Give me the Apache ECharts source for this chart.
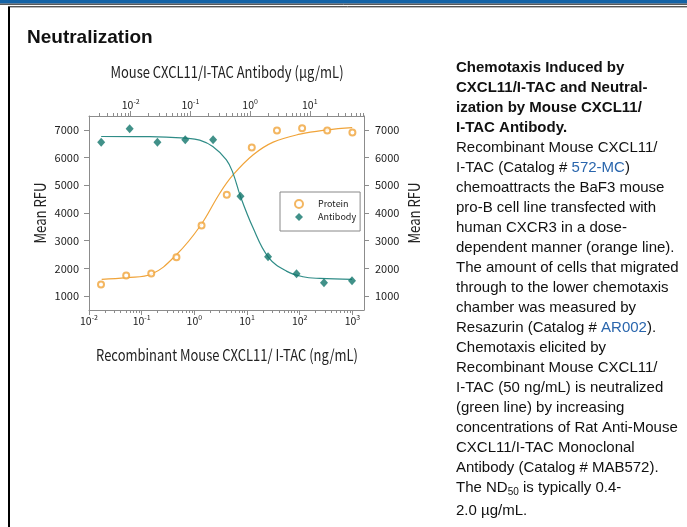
<!DOCTYPE html>
<html><head><meta charset="utf-8">
<script src="https://cdn.jsdelivr.net/npm/echarts@6/dist/echarts.min.js"></script>
<style>html,body{margin:0;padding:0;background:#fff}#c{width:687px;height:527px}</style>
</head><body><div id="c"></div>
<script>
// ---- data ----
// Protein (bottom axis, ng/mL)
const proteinConc = [0.0169, 0.0508, 0.152, 0.457, 1.37, 4.12, 12.3, 37.0, 111, 333, 1000];
const proteinRFU  = [1424, 1748, 1820, 2407, 3547, 4662, 6363, 6975, 7060, 6975, 6903];
// Antibody (top axis, ug/mL)
const antibodyConc = [0.0032, 0.0096, 0.028, 0.082, 0.24, 0.69, 2.0, 6.0, 17.3, 51];
const antibodyRFU  = [6557, 7036, 6557, 6640, 6640, 4601, 2421, 1809, 1486, 1558];
// fitted curves, points
const proteinFitConc = [0.0174, 0.0519, 0.155, 0.461, 1.28, 3.06, 5.47, 13.1, 31.4, 101, 324, 991];
const proteinFitRFU  = [1604, 1665, 1800, 2504, 3522, 4723, 5381, 6100, 6557, 6845, 7000, 7083];
const antibodyFitConc = [0.0032, 0.0208, 0.0857, 0.143, 0.237, 0.401, 0.517, 0.689, 1.12, 2.0, 4.06, 7.69, 14.7, 51];
const antibodyFitRFU  = [6760, 6758, 6700, 6630, 6400, 5920, 5440, 4600, 3464, 2421, 1903, 1700, 1640, 1604];
// axes
const bottomTickExponents = [-2, -1, 0, 1, 2, 3];
const topTickExponents = [-2, -1, 0, 1];
const rfuTicks = [1000, 2000, 3000, 4000, 5000, 6000, 7000];
const bottomRange = [0.01, 1660];
const topRange = [0.002, 81];
const rfuRange = [500, 7500];
const bottomTitle = 'Recombinant Mouse CXCL11/ I-TAC (ng/mL)';
const topTitle = 'Mouse CXCL11/I-TAC Antibody (µg/mL)';
const yTitle = 'Mean RFU';

const FONT = "'Noto Sans CJK SC','DejaVu Sans Condensed',sans-serif";
const TXT = "'Liberation Sans',Arial,sans-serif";
const ORANGE = '#F0A43A', GREEN_LINE = '#2F8C87', GREEN = '#11766C', AXIS = '#8c8c8c', INK = '#222';

const pow10 = e => Math.pow(10, e);
function minorTicks(r) {
  const out = [];
  for (let n = Math.floor(Math.log10(r[0])); n <= Math.ceil(Math.log10(r[1])); n++)
    for (let k = 2; k <= 9; k++) { const v = k * pow10(n); if (v > r[0] && v < r[1]) out.push(v); }
  return out;
}
const expLabel = v => '{b|10}{s|' + Math.round(Math.log10(v)) + '}';
const expRich = { b: { fontSize: 10.5, fontFamily: FONT, color: INK }, s: { fontSize: 7, fontFamily: FONT, color: INK, padding: [0, 0, 7, 0], lineHeight: 7 } };

function xMajor(pos, range, exps) {
  return {
    type: 'log', logBase: 10, position: pos, min: range[0], max: range[1], gridIndex: 0,
    axisLine: { show: true, lineStyle: { color: AXIS, width: 1 } },
    axisTick: { show: true, length: 5, customValues: exps.map(pow10), lineStyle: { color: AXIS } },
    axisLabel: { show: true, customValues: exps.map(pow10), formatter: expLabel, rich: expRich, margin: 6 },
    splitLine: { show: false }, minorTick: { show: false }
  };
}
function xMinor(pos, range) {
  return {
    type: 'log', logBase: 10, position: pos, min: range[0], max: range[1], gridIndex: 0,
    axisLine: { show: false },
    axisTick: { show: true, length: 3, customValues: minorTicks(range), lineStyle: { color: AXIS } },
    axisLabel: { show: false }, splitLine: { show: false }
  };
}
function yAxis(pos, margin) {
  return {
    type: 'value', position: pos, min: rfuRange[0], max: rfuRange[1],
    axisLine: { show: true, lineStyle: { color: AXIS } },
    axisTick: { show: true, length: 5, customValues: rfuTicks, lineStyle: { color: AXIS } },
    axisLabel: { customValues: rfuTicks, formatter: v => String(v), fontSize: 11, fontFamily: FONT, color: INK, margin: margin },
    splitLine: { show: false }
  };
}

const zip = (a, b) => a.map((v, i) => [v, b[i]]);

const bodyLines = [
  '{h|Chemotaxis Induced by}',
  '{h|CXCL11/I-TAC and Neutral-}',
  '{h|ization by Mouse CXCL11/}',
  '{h|I-TAC Antibody.}',
  'Recombinant Mouse CXCL11/',
  'I-TAC (Catalog # {a|572-MC})',
  'chemoattracts the BaF3 mouse',
  'pro-B cell line transfected with',
  'human CXCR3 in a dose-',
  'dependent manner (orange line).',
  'The amount of cells that migrated',
  'through to the lower chemotaxis',
  'chamber was measured by',
  'Resazurin (Catalog # {a|AR002}).',
  'Chemotaxis elicited by',
  'Recombinant Mouse CXCL11/',
  'I-TAC (50 ng/mL) is neutralized',
  '(green line) by increasing',
  'concentrations of Rat Anti-Mouse',
  'CXCL11/I-TAC Monoclonal',
  'Antibody (Catalog # MAB572).',
  'The ND{sub|50} is typically 0.4-'
];
const lastLine = '2.0 µg/mL.';

const titleStyle = t => ({ text: t, fontSize: 16, fontFamily: FONT, fill: INK, align: 'center', verticalAlign: 'middle' });

const chart = echarts.init(document.getElementById('c'), null, { renderer: 'canvas' });
chart.setOption({
  animation: false,
  backgroundColor: '#fff',
  grid: { left: 89, top: 116, width: 275, height: 194, containLabel: false, outerBoundsMode: 'none' },
  xAxis: [
    xMajor('bottom', bottomRange, bottomTickExponents),
    xMajor('top', topRange, topTickExponents),
    xMinor('bottom', bottomRange),
    xMinor('top', topRange)
  ],
  yAxis: [yAxis('left', 10), yAxis('right', 11)],
  legend: {
    orient: 'vertical', left: 280, top: 192, padding: [6, 4, 8, 14],
    itemWidth: 8, itemHeight: 8, itemGap: 1,
    borderColor: '#888', borderWidth: 1, backgroundColor: '#fff',
    textStyle: { fontSize: 9, fontFamily: FONT, color: INK, padding: [0, 0, 0, 10], lineHeight: 12 },
    data: [{ name: 'Protein', icon: 'emptyCircle' }, { name: 'Antibody', icon: 'diamond' }]
  },
  series: [
    { type: 'line', name: 'Protein fit', xAxisIndex: 0, yAxisIndex: 0, data: zip(proteinFitConc, proteinFitRFU),
      showSymbol: false, smooth: 0.4, lineStyle: { color: ORANGE, width: 1.2 }, z: 2, silent: true },
    { type: 'line', name: 'Antibody fit', xAxisIndex: 1, yAxisIndex: 0, data: zip(antibodyFitConc, antibodyFitRFU),
      showSymbol: false, smooth: 0.4, lineStyle: { color: GREEN_LINE, width: 1.2 }, z: 2, silent: true },
    { type: 'scatter', name: 'Protein', xAxisIndex: 0, yAxisIndex: 0, data: zip(proteinConc, proteinRFU),
      symbol: 'emptyCircle', symbolSize: 6, itemStyle: { color: ORANGE, borderColor: ORANGE, borderWidth: 1 }, z: 3 },
    { type: 'scatter', name: 'Antibody', xAxisIndex: 1, yAxisIndex: 0, data: zip(antibodyConc, antibodyRFU),
      symbol: 'diamond', symbolSize: [8, 9], itemStyle: { color: GREEN }, z: 3 }
  ],
  graphic: [
    { type: 'rect', shape: { x: 0, y: 0, width: 687, height: 3.5 }, style: { fill: '#1463a6' }, silent: true },
    { type: 'line', shape: { x1: 0, y1: 4.2, x2: 687, y2: 4.2 }, style: { stroke: '#111', lineWidth: 1 }, silent: true },
    { type: 'line', shape: { x1: 8, y1: 6.8, x2: 687, y2: 6.8 }, style: { stroke: '#111', lineWidth: 1 }, silent: true },
    { type: 'line', shape: { x1: 9, y1: 7, x2: 9, y2: 527 }, style: { stroke: '#000', lineWidth: 2 }, silent: true },
    { type: 'text', left: 27, top: 28, style: { text: 'Neutralization', font: 'bold 19px ' + TXT, fill: '#111' } },
    // axis titles
    { type: 'text', x: 227, y: 72, scaleX: 0.81, style: titleStyle(topTitle) },
    { type: 'text', x: 227, y: 355, scaleX: 0.81, style: titleStyle(bottomTitle) },
    { type: 'text', x: 40, y: 213, rotation: Math.PI / 2, scaleX: 0.82, style: titleStyle(yTitle) },
    { type: 'text', x: 414, y: 213, rotation: Math.PI / 2, scaleX: 0.82, style: titleStyle(yTitle) },
    // caption
    { type: 'text', x: 456, y: 57.7, style: {
        text: bodyLines.join('\n'), fontSize: 15, fontFamily: TXT, fill: '#111', lineHeight: 20, verticalAlign: 'top',
        rich: {
          h: { fontSize: 15, fontFamily: TXT, fontWeight: 'bold', fill: '#111', lineHeight: 20 },
          a: { fontSize: 15, fontFamily: TXT, fill: '#2a66ad', lineHeight: 20 },
          sub: { fontSize: 10, fontFamily: TXT, fill: '#111', lineHeight: 10, padding: [10, 0, 0, 0] }
        } } },
    { type: 'text', x: 456, y: 500.7, style: { text: lastLine, fontSize: 15, fontFamily: TXT, fill: '#111', lineHeight: 20, verticalAlign: 'top' } }
  ]
});
</script></body></html>
